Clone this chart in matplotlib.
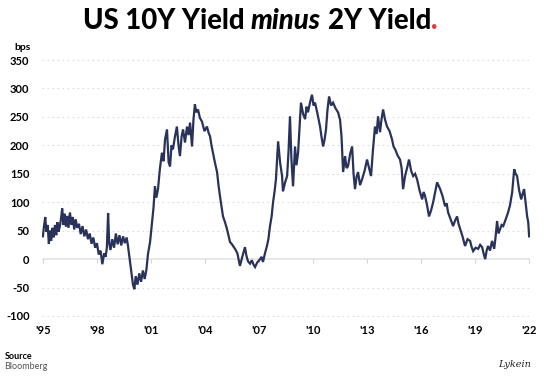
import matplotlib
matplotlib.use("Agg")
import matplotlib.pyplot as plt

# spread readings (decimal year, bps)
years = [
    1995.00, 1995.06, 1995.13, 1995.19, 1995.26, 1995.33, 1995.39, 1995.46, 1995.53, 1995.60,
    1995.67, 1995.74, 1995.80, 1995.87, 1995.94, 1996.00, 1996.07, 1996.14, 1996.21, 1996.28,
    1996.35, 1996.42, 1996.50, 1996.58, 1996.66, 1996.74, 1996.82, 1996.90, 1997.00, 1997.10,
    1997.20, 1997.30, 1997.40, 1997.50, 1997.60, 1997.70, 1997.80, 1997.90, 1998.00, 1998.10,
    1998.20, 1998.30, 1998.40, 1998.48, 1998.55, 1998.62, 1998.68, 1998.75, 1998.85, 1998.95,
    1999.05, 1999.15, 1999.25, 1999.35, 1999.45, 1999.55, 1999.65, 1999.72, 1999.80, 1999.90,
    2000.00, 2000.08, 2000.15, 2000.25, 2000.35, 2000.45, 2000.55, 2000.65, 2000.75, 2000.83,
    2000.95, 2001.06, 2001.14, 2001.22, 2001.30, 2001.39, 2001.50, 2001.61, 2001.70, 2001.78,
    2001.89, 2001.98, 2002.06, 2002.14, 2002.22, 2002.33, 2002.44, 2002.53, 2002.61, 2002.70,
    2002.78, 2002.89, 2003.00, 2003.09, 2003.17, 2003.28, 2003.36, 2003.44, 2003.52, 2003.61,
    2003.72, 2003.83, 2003.97, 2004.11, 2004.20, 2004.28, 2004.36, 2004.44, 2004.55, 2004.67,
    2004.75, 2004.83, 2004.92, 2005.00, 2005.11, 2005.22, 2005.30, 2005.39, 2005.50, 2005.58,
    2005.67, 2005.80, 2005.94, 2006.08, 2006.22, 2006.30, 2006.39, 2006.50, 2006.60, 2006.70,
    2006.78, 2006.90, 2007.06, 2007.14, 2007.22, 2007.33, 2007.44, 2007.52, 2007.61, 2007.70,
    2007.78, 2007.86, 2007.94, 2008.06, 2008.17, 2008.28, 2008.33, 2008.45, 2008.56, 2008.64,
    2008.72, 2008.80, 2008.89, 2009.00, 2009.08, 2009.17, 2009.25, 2009.33, 2009.45, 2009.56,
    2009.64, 2009.72, 2009.83, 2009.94, 2010.03, 2010.11, 2010.25, 2010.39, 2010.47, 2010.56,
    2010.64, 2010.72, 2010.80, 2010.89, 2011.00, 2011.11, 2011.25, 2011.39, 2011.50, 2011.58,
    2011.67, 2011.78, 2011.86, 2011.94, 2012.06, 2012.17, 2012.25, 2012.33, 2012.42, 2012.50,
    2012.61, 2012.72, 2012.86, 2013.00, 2013.11, 2013.22, 2013.33, 2013.44, 2013.53, 2013.61,
    2013.72, 2013.80, 2013.89, 2014.00, 2014.11, 2014.25, 2014.39, 2014.47, 2014.56, 2014.70,
    2014.83, 2014.92, 2015.00, 2015.11, 2015.22, 2015.33, 2015.45, 2015.56, 2015.67, 2015.78,
    2015.92, 2016.06, 2016.14, 2016.22, 2016.33, 2016.44, 2016.55, 2016.67, 2016.78, 2016.89,
    2017.06, 2017.20, 2017.33, 2017.42, 2017.50, 2017.64, 2017.78, 2017.89, 2018.00, 2018.08,
    2018.17, 2018.30, 2018.44, 2018.58, 2018.72, 2018.80, 2018.89, 2019.03, 2019.17, 2019.28,
    2019.39, 2019.47, 2019.56, 2019.64, 2019.72, 2019.83, 2019.94, 2020.06, 2020.14, 2020.22,
    2020.30, 2020.39, 2020.47, 2020.56, 2020.70, 2020.83, 2020.94, 2021.06, 2021.17, 2021.25,
    2021.33, 2021.45, 2021.56, 2021.64, 2021.72, 2021.80, 2021.89, 2021.95, 2022.00,
]
spread = [
    40, 58, 74, 48, 60, 27, 50, 32, 55, 38,
    60, 42, 65, 48, 58, 70, 89, 60, 80, 57,
    76, 55, 82, 60, 74, 52, 70, 55, 62, 44,
    58, 40, 52, 35, 45, 27, 38, 20, 28, 8,
    15, -9, 10, 4, 20, 81, 28, 16, 35, 20,
    45, 26, 42, 24, 40, 28, 38, 24, 5, -20,
    -45, -53, -30, -45, -25, -40, -20, -35, -18, 8,
    30, 64, 90, 128, 108, 123, 160, 187, 172, 210,
    228, 170, 163, 200, 193, 215, 233, 200, 181, 215,
    228, 205, 233, 218, 240, 198, 245, 272, 258, 263,
    248, 242, 225, 233, 222, 216, 200, 187, 170, 153,
    130, 111, 92, 75, 65, 53, 42, 30, 26, 22,
    18, 10, -12, 5, 21, 6, -4, -8, -2, -10,
    -14, -6, 0, 4, -5, 10, 23, 35, 58, 75,
    100, 118, 140, 207, 170, 146, 119, 135, 146, 190,
    251, 175, 128, 198, 165, 187, 230, 275, 255, 246,
    268, 258, 275, 289, 270, 275, 255, 233, 215, 198,
    210, 228, 262, 286, 270, 275, 265, 258, 245, 216,
    153, 181, 160, 163, 185, 198, 150, 123, 145, 153,
    130, 140, 155, 175, 160, 146, 193, 233, 220, 251,
    223, 245, 263, 245, 233, 225, 210, 198, 193, 182,
    175, 160, 123, 146, 160, 175, 155, 146, 150, 140,
    120, 105, 118, 111, 95, 75, 85, 100, 118, 135,
    123, 110, 93, 98, 82, 70, 58, 68, 75, 62,
    53, 40, 23, 35, 32, 22, 14, 20, 18, 25,
    21, 10, 0, 15, 23, 15, 32, 18, 40, 67,
    45, 53, 60, 58, 70, 82, 95, 118, 158, 150,
    146, 120, 105, 115, 123, 100, 75, 65, 40,
]

tick_years = [1995, 1998, 2001, 2004, 2007, 2010, 2013, 2016, 2019, 2022]
tick_labels = ["'95", "'98", "'01", "'04", "'07", "'10", "'13", "'16", "'19", "'22"]
y_ticks = [-100, -50, 0, 50, 100, 150, 200, 250, 300, 350]

navy = "#28325a"
plt.rcParams["font.family"] = ["Lato", "DejaVu Sans"]

fig = plt.figure(figsize=(5.5, 3.76), dpi=100)
ax = fig.add_axes([0.0764, 0.1566, 0.8873, 0.6868])

ax.plot(years, spread, color=navy, lw=1.6, solid_joinstyle="miter", zorder=3)

ax.set_xlim(1994.95, 2022.05)
ax.set_ylim(-102, 352)
ax.set_yticks(y_ticks)
ax.set_yticklabels([str(v) for v in y_ticks], fontsize=8, fontweight="bold")
for v in y_ticks:
    if v == 0:
        ax.axhline(v, color="#e3e3e3", lw=1.2, zorder=1)
    else:
        ax.axhline(v, color="#dcdcdc", lw=0.8, ls=(0, (1.5, 3)), zorder=1)
ax.tick_params(axis="y", length=0, pad=9)

# small ticks sitting on the zero line
ax.spines["bottom"].set_position(("data", 0))
ax.spines["bottom"].set_visible(False)
ax.set_xticks(tick_years)
ax.tick_params(axis="x", length=3, color="#d5d5d5", labelbottom=False)
for s in ["top", "right", "left"]:
    ax.spines[s].set_visible(False)

sec = ax.secondary_xaxis("bottom")
sec.set_xticks(tick_years)
sec.set_xticklabels(tick_labels, fontsize=8, fontweight="bold")
sec.tick_params(length=0, pad=6)
sec.spines["bottom"].set_visible(False)

fig.text(0.026, 0.875, "bps", fontsize=7.5, fontweight="bold", va="center")
fig.text(0.008, 0.052, "Source", fontsize=6.5, fontweight="bold", va="center")
fig.text(0.008, 0.025, "Bloomberg", fontsize=6.5, color="#555555", va="center")
fig.text(0.965, 0.03, "Lykein", fontsize=7, style="italic", family="DejaVu Serif",
         ha="right", va="center", color="#222222")

# title assembled from pieces so "minus" is italic and the dot red
fig.canvas.draw()
r = fig.canvas.get_renderer()
pieces = [("US 10Y Yield", "normal", "black"), ("minus", "italic", "black"),
          ("2Y Yield", "normal", "black"), (".", "normal", "#e0393e")]
size = 19.8
probe = fig.text(0, 0, "a a", fontsize=size, fontweight="bold")
probe2 = fig.text(0, 0, "aa", fontsize=size, fontweight="bold")
space = probe.get_window_extent(r).width - probe2.get_window_extent(r).width
probe.remove()
probe2.remove()
arts = []
widths = []
for txt, st, col in pieces:
    t = fig.text(0, 0.945, txt, fontsize=size, fontweight="black", style=st,
                 color=col, va="center")
    arts.append(t)
    widths.append(t.get_window_extent(r).width)
gaps = [space, space, 0]
total = sum(widths) + sum(gaps)
x = 260 - total / 2
for i, t in enumerate(arts):
    t.set_x(x / fig.bbox.width)
    x += widths[i] + (gaps[i] if i < len(gaps) else 0)

fig.savefig("out.png", dpi=100)
